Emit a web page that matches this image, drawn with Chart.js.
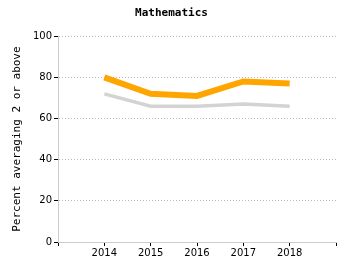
<!DOCTYPE html>
<html><head><meta charset="utf-8">
<script src="https://cdn.jsdelivr.net/npm/chart.js@4/dist/chart.umd.min.js"></script>
<style>html,body{margin:0;padding:0;background:#fff}#w{width:350px;height:275px}</style>
</head><body><div id="w"><canvas id="c" width="350" height="275"></canvas></div>
<script>
const years = [2014, 2015, 2016, 2017, 2018];
const seriesOrange = [80, 72, 71, 78, 77];
const seriesGray = [72, 66, 66, 67, 66];
const yTicks = [0, 20, 40, 60, 80, 100];
const titleText = "Mathematics";
const yTitle = "Percent averaging 2 or above";

const toPts = (vals) => years.map((y, i) => ({x: y, y: vals[i]}));

new Chart(document.getElementById('c'), {
  type: 'line',
  data: {
    datasets: [
      {data: toPts(seriesGray), borderColor: '#d3d3d3', borderWidth: 3.5, pointRadius: 0, tension: 0},
      {data: toPts(seriesOrange), borderColor: '#ffa500', borderWidth: 6, pointRadius: 0, tension: 0}
    ]
  },
  options: {
    responsive: false,
    animation: false,
    devicePixelRatio: 1,
    layout: {padding: {left: 7, right: 14, top: 0, bottom: 0}},
    plugins: {
      legend: {display: false},
      tooltip: {enabled: false},
      title: {display: true, text: titleText, color: '#000',
        font: {family: 'DejaVu Sans Mono', size: 11, weight: 'bold'},
        padding: {top: 7, bottom: 16}}
    },
    scales: {
      x: {
        type: 'linear', min: 2013, max: 2019,
        afterFit: s => { s.height = 33; },
        afterBuildTicks: s => { s.ticks = [2013].concat(years, [2019]).map(v => ({value: v})); },
        ticks: {color: '#000', font: {family: 'DejaVu Sans', size: 10}, padding: 1,
          callback: v => years.includes(v) ? String(v) : ''},
        grid: {drawOnChartArea: false, tickColor: '#000', tickLength: 4, tickWidth: 1},
        border: {color: '#ccc', width: 1}
      },
      y: {
        min: 0, max: 100,
        afterFit: s => { s.width = 51; },
        afterBuildTicks: s => { s.ticks = yTicks.map(v => ({value: v})); },
        ticks: {color: '#000', font: {family: 'DejaVu Sans', size: 10}, padding: 2},
        grid: {color: '#bbb', tickColor: '#000', tickLength: 4, tickBorderDash: [], lineWidth: 1},
        border: {color: '#ccc', width: 1, dash: [1, 2]},
        title: {display: true, text: yTitle, color: '#000',
          font: {family: 'DejaVu Sans Mono', size: 11}, padding: {top: 4, bottom: 0}}
      }
    }
  }
});
</script></body></html>
